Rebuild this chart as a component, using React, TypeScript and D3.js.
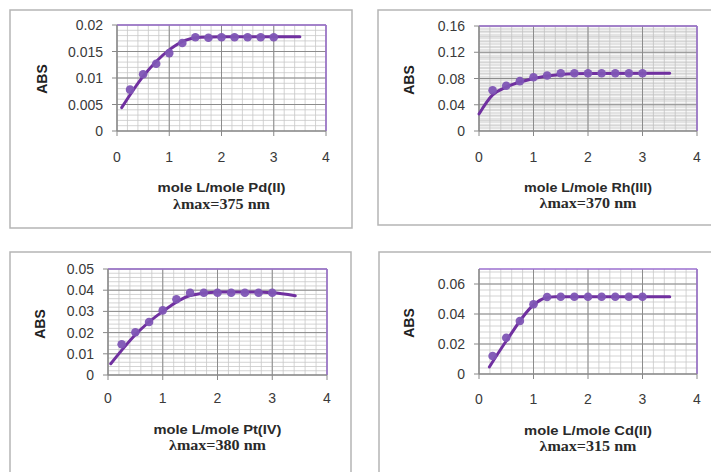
import React from "react";
import * as d3 from "d3";

// ---- data ----
const ratioX = [0.25, 0.5, 0.75, 1.0, 1.25, 1.5, 1.75, 2.0, 2.25, 2.5, 2.75, 3.0];

const pdAbs = [0.0078, 0.0107, 0.0127, 0.0147, 0.0166, 0.0177, 0.0176, 0.0177, 0.0177, 0.0177, 0.0177, 0.0177];
const rhAbs = [0.062, 0.069, 0.076, 0.082, 0.0845, 0.088, 0.088, 0.088, 0.088, 0.088, 0.088, 0.088];
const ptAbs = [0.0145, 0.0202, 0.025, 0.0305, 0.0357, 0.0388, 0.0388, 0.0388, 0.0388, 0.0388, 0.0388, 0.0388];
const cdAbs = [0.012, 0.0242, 0.0353, 0.0465, 0.0513, 0.0515, 0.0515, 0.0515, 0.0515, 0.0515, 0.0515, 0.0515];

// trend lines
const pdFitX = [0.09, 0.5, 1.0, 1.3, 1.6, 2.0, 3.5];
const pdFitY = [0.0044, 0.0103, 0.0153, 0.0171, 0.0177, 0.0178, 0.0178];
const rhFitX = [0, 0.25, 0.5, 1.0, 1.5, 2.0, 3.5];
const rhFitY = [0.026, 0.055, 0.067, 0.08, 0.086, 0.0875, 0.088];
const ptFitX = [0.05, 0.5, 1.0, 1.5, 2.0, 2.5, 3.0, 3.42];
const ptFitY = [0.0053, 0.019, 0.03, 0.0375, 0.0392, 0.0392, 0.0388, 0.0374];
const cdFitX = [0.19, 0.5, 1.0, 1.2, 1.4, 3.5];
const cdFitY = [0.0047, 0.022, 0.046, 0.0505, 0.0515, 0.0515];

const xTicks = [0, 1, 2, 3, 4];
const pdTicks = [0, 0.005, 0.01, 0.015, 0.02];
const rhTicks = [0, 0.04, 0.08, 0.12, 0.16];
const ptTicks = [0, 0.01, 0.02, 0.03, 0.04, 0.05];
const cdTicks = [0, 0.02, 0.04, 0.06];

const pdTickLabels = ["0", "0.005", "0.01", "0.015", "0.02"];
const rhTickLabels = ["0", "0.04", "0.08", "0.12", "0.16"];
const ptTickLabels = ["0", "0.01", "0.02", "0.03", "0.04", "0.05"];
const cdTickLabels = ["0", "0.02", "0.04", "0.06"];

const titles = ["mole L/mole Pd(II)", "mole L/mole Rh(III)", "mole L/mole Pt(IV)", "mole L/mole Cd(II)"];
const lambdas = ["λmax=375 nm", "λmax=370 nm", "λmax=380 nm", "λmax=315 nm"];

const PURPLE = "#7030a0";
const SANS = "Liberation Sans, Arial, sans-serif";

type PanelProps = {
  box: [number, number, number, number];
  plot: [number, number, number, number]; // x0, x1, yTop, yBottom
  yMax: number;
  yTicks: number[];
  yLabels: string[];
  yMinor: number;
  values: number[];
  fitX: number[];
  fitY: number[];
  title: string;
  lambda: string;
  titleY: number;
  lambdaY: number;
  absPos: [number, number];
  xLabelY: number;
  textured?: boolean;
};

function Panel(p: PanelProps) {
  const [x0, x1, yT, yB] = p.plot;
  const xs = d3.scaleLinear().domain([0, 4]).range([x0, x1]);
  const ys = d3.scaleLinear().domain([0, p.yMax]).range([yB, yT]);
  const vMinor = d3.range(0, 4.0001, 0.2);
  const nH = Math.floor(p.yMax / p.yMinor + 1e-6);
  const hMinor = d3.range(0, nH + 1).map((i) => i * p.yMinor);
  const stripes = p.textured ? d3.range(yT + 1.5, yB, 3) : [];
  const line = d3
    .line<number>()
    .x((_, i) => xs(p.fitX[i]))
    .y((d) => ys(d))
    .curve(d3.curveMonotoneX);
  const cx = (x0 + x1) / 2;
  return (
    <g>
      <rect x={p.box[0]} y={p.box[1]} width={p.box[2]} height={p.box[3]} fill="#fff" stroke="#b5b5b5" strokeWidth={1.5} />
      <rect x={x0} y={yT} width={x1 - x0} height={yB - yT} fill={p.textured ? "#e3e3e3" : "#fff"} />
      {stripes.map((y, i) => (
        <line key={"s" + i} x1={x0} x2={x1} y1={y} y2={y} stroke="#f7f7f7" strokeWidth={1} />
      ))}
      {hMinor.map((v, i) => (
        <line key={"h" + i} x1={x0} x2={x1} y1={ys(v)} y2={ys(v)} stroke={p.textured ? "#cdcdcd" : "#c8c8c8"} strokeWidth={0.8} />
      ))}
      {vMinor.map((v, i) => (
        <line key={"v" + i} x1={xs(v)} x2={xs(v)} y1={yT} y2={yB} stroke={p.textured ? "#c2c2c2" : "#c8c8c8"} strokeWidth={0.8} />
      ))}
      {p.yTicks.map((v, i) => (
        <line key={"hm" + i} x1={x0} x2={x1} y1={ys(v)} y2={ys(v)} stroke="#8c8c8c" strokeWidth={1} />
      ))}
      {xTicks.map((v, i) => (
        <line key={"vm" + i} x1={xs(v)} x2={xs(v)} y1={yT} y2={yB} stroke="#8c8c8c" strokeWidth={1} />
      ))}
      {/* purple plot border top/right */}
      <line x1={x0} x2={x1} y1={yT} y2={yT} stroke="#9b6fcf" strokeWidth={1.5} />
      <line x1={x1} x2={x1} y1={yT} y2={yB} stroke="#9b6fcf" strokeWidth={1.5} />
      {/* axes */}
      <line x1={x0} x2={x0} y1={yT} y2={yB} stroke="#888" strokeWidth={1.2} />
      <line x1={x0} x2={x1} y1={yB} y2={yB} stroke="#888" strokeWidth={1.2} />
      {p.yTicks.map((v, i) => (
        <g key={"yt" + i}>
          <line x1={x0 - 5} x2={x0} y1={ys(v)} y2={ys(v)} stroke="#888" strokeWidth={1} />
          <text x={x0 - 14} y={ys(v) + 5} textAnchor="end" fontSize={14} fill="#3a3a3a" fontFamily={SANS}>
            {p.yLabels[i]}
          </text>
        </g>
      ))}
      {xTicks.map((v, i) => (
        <g key={"xt" + i}>
          <line x1={xs(v)} x2={xs(v)} y1={yB} y2={yB + 5} stroke="#888" strokeWidth={1} />
          <text x={xs(v)} y={p.xLabelY} textAnchor="middle" fontSize={14} fill="#3a3a3a" fontFamily={SANS}>
            {v}
          </text>
        </g>
      ))}
      <path d={line(p.fitY) || ""} fill="none" stroke={PURPLE} strokeWidth={3} strokeLinecap="round" />
      {p.values.map((v, i) => (
        <circle key={"c" + i} cx={xs(ratioX[i])} cy={ys(v)} r={4.3} fill="#7e55b5" opacity={0.95} />
      ))}
      <text
        transform={`translate(${p.absPos[0]},${p.absPos[1]}) rotate(-90)`}
        textAnchor="middle"
        fontSize={14}
        fontWeight="bold"
        fill="#222"
        fontFamily={SANS}
      >
        ABS
      </text>
      <text x={cx} y={p.titleY} textAnchor="middle" fontSize={13.5} fontWeight="bold" fill="#2a2a2a" fontFamily={SANS} textLength={128} lengthAdjust="spacingAndGlyphs">
        {p.title}
      </text>
      <text x={cx} y={p.lambdaY} textAnchor="middle" fontSize={14} fontWeight="bold" fill="#2a2a2a" fontFamily="Liberation Serif, Times New Roman, serif" textLength={97} lengthAdjust="spacingAndGlyphs">
        {p.lambda}
      </text>
    </g>
  );
}

export default function App() {
  return (
    <svg width={711} height={472} style={{ position: "absolute", left: 0, top: 0, background: "#fff" }}>
      <Panel
        box={[10, 10, 342, 218]}
        plot={[117, 326, 25, 131]}
        yMax={0.02}
        yTicks={pdTicks}
        yLabels={pdTickLabels}
        yMinor={0.001}
        values={pdAbs}
        fitX={pdFitX}
        fitY={pdFitY}
        title={titles[0]}
        lambda={lambdas[0]}
        titleY={192}
        lambdaY={209}
        absPos={[47, 79]}
        xLabelY={162}
      />
      <Panel
        box={[378, 10, 340, 215]}
        plot={[479, 697, 26, 131]}
        yMax={0.16}
        yTicks={rhTicks}
        yLabels={rhTickLabels}
        yMinor={0.008}
        values={rhAbs}
        fitX={rhFitX}
        fitY={rhFitY}
        title={titles[1]}
        lambda={lambdas[1]}
        titleY={192}
        lambdaY={208}
        absPos={[414, 80]}
        xLabelY={162}
        textured
      />
      <Panel
        box={[10, 252, 341, 230]}
        plot={[108, 327, 269, 375]}
        yMax={0.05}
        yTicks={ptTicks}
        yLabels={ptTickLabels}
        yMinor={0.002}
        values={ptAbs}
        fitX={ptFitX}
        fitY={ptFitY}
        title={titles[2]}
        lambda={lambdas[2]}
        titleY={434}
        lambdaY={450}
        absPos={[45, 324]}
        xLabelY={403}
      />
      <Panel
        box={[379, 252, 340, 230]}
        plot={[479, 697, 269, 374]}
        yMax={0.07}
        yTicks={cdTicks}
        yLabels={cdTickLabels}
        yMinor={0.004}
        values={cdAbs}
        fitX={cdFitX}
        fitY={cdFitY}
        title={titles[3]}
        lambda={lambdas[3]}
        titleY={435}
        lambdaY={451}
        absPos={[414, 323]}
        xLabelY={404}
      />
    </svg>
  );
}
